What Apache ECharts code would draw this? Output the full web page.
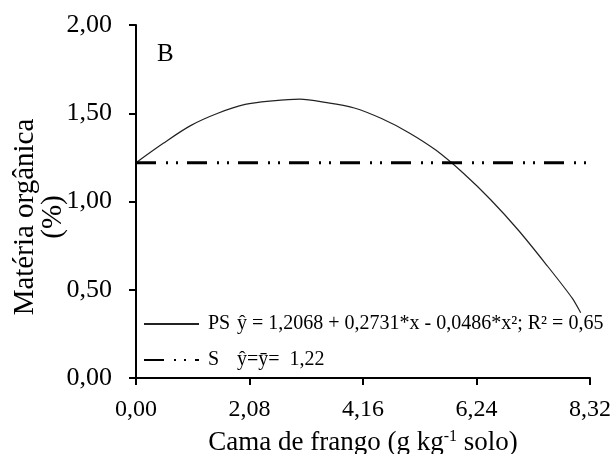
<!DOCTYPE html>
<html>
<head>
<meta charset="utf-8">
<script src="https://cdn.jsdelivr.net/npm/echarts@6/dist/echarts.min.js"></script>
<style>
  html, body { margin: 0; padding: 0; background: #fff; }
  #chart { width: 613px; height: 454px; }
</style>
</head>
<body>
<div id="chart"></div>
<script>
// values
const psX = [0, 0.5, 1, 1.5, 2, 2.5, 3, 3.5, 4, 4.5, 5, 5.5, 6, 6.5, 7, 7.5, 8, 8.15];
const psY = [1.22, 1.33, 1.43, 1.50, 1.55, 1.57, 1.58, 1.56, 1.53, 1.47, 1.39, 1.29, 1.16, 1.01, 0.84, 0.65, 0.45, 0.37];
const sX = [0, 8.25];
const sY = [1.22, 1.22];
const legendName = { PS: 'PS', S: 'S' };
const legendEq = {
  PS: '\u0177 = 1,2068 + 0,2731*x - 0,0486*x\u00b2; R\u00b2 = 0,65',
  S: '\u0177=\u0233=  1,22'
};

const serif = '"Liberation Serif", "DejaVu Serif", serif';
const fmt = v => v.toFixed(2).replace('.', ',');

const chart = echarts.init(document.getElementById('chart'));
chart.setOption({
  animation: false,
  backgroundColor: '#fff',
  grid: { left: 136, right: 23, top: 25, bottom: 76, containLabel: false, outerBoundsMode: 'none' },
  xAxis: {
    type: 'value',
    min: 0, max: 8.32, interval: 2.08,
    name: 'Cama de frango (g kg{sup|-1} solo)',
    nameLocation: 'middle',
    nameGap: 51,
    nameMoveOverlap: false,
    nameTextStyle: {
      color: '#000', fontFamily: serif, fontSize: 27,
      rich: { sup: { fontSize: 16, fontFamily: serif, color: '#000', padding: [0, 0, 12, 0] } }
    },
    axisLine: { lineStyle: { color: '#000', width: 2 } },
    axisTick: { show: true, inside: false, length: 7, lineStyle: { color: '#000', width: 2 } },
    axisLabel: { color: '#000', fontFamily: serif, fontSize: 24, margin: 20, formatter: fmt },
    splitLine: { show: false }
  },
  yAxis: {
    type: 'value',
    min: 0, max: 2, interval: 0.5,
    axisLine: { show: true, lineStyle: { color: '#000', width: 2 } },
    axisTick: { show: true, inside: false, length: 7, lineStyle: { color: '#000', width: 2 } },
    axisLabel: { color: '#000', fontFamily: serif, fontSize: 26, margin: 24, formatter: fmt },
    splitLine: { show: false }
  },
  legend: {
    orient: 'vertical',
    left: 143, top: 314,
    padding: 0,
    itemWidth: 55, itemHeight: 14, itemGap: 16,
    data: ['PS', 'S'],
    itemStyle: { opacity: 0 },
    formatter: name => '{n|' + legendName[name] + '}' + legendEq[name],
    textStyle: {
      color: '#000', fontFamily: serif, fontSize: 20, lineHeight: 18,
      rich: { n: { width: 29, padding: [0, 0, 0, 4], fontFamily: serif, fontSize: 20, color: '#000' } }
    }
  },
  graphic: [
    {
      type: 'text', x: 157, y: 42,
      style: { text: 'B', font: '25px ' + serif, fill: '#000' }
    },
    {
      type: 'text', x: 39, y: 217, rotation: Math.PI / 2,
      style: {
        text: 'Matéria orgânica\n(%)', font: '29px ' + serif, fill: '#000',
        textAlign: 'center', textVerticalAlign: 'middle', lineHeight: 28
      }
    }
  ],
  series: [
    {
      name: 'PS', type: 'line', smooth: 0.3, symbol: 'none',
      data: psX.map((x, i) => [x, psY[i]]),
      itemStyle: { color: '#222' },
      lineStyle: { color: '#222', width: 1.2 }
    },
    {
      name: 'S', type: 'line', symbol: 'none',
      data: sX.map((x, i) => [x, sY[i]]),
      itemStyle: { color: '#000' },
      lineStyle: { color: '#000', width: 3, type: [20, 10, 2, 8, 2, 9], cap: 'butt' }
    }
  ]
});
</script>
</body>
</html>
